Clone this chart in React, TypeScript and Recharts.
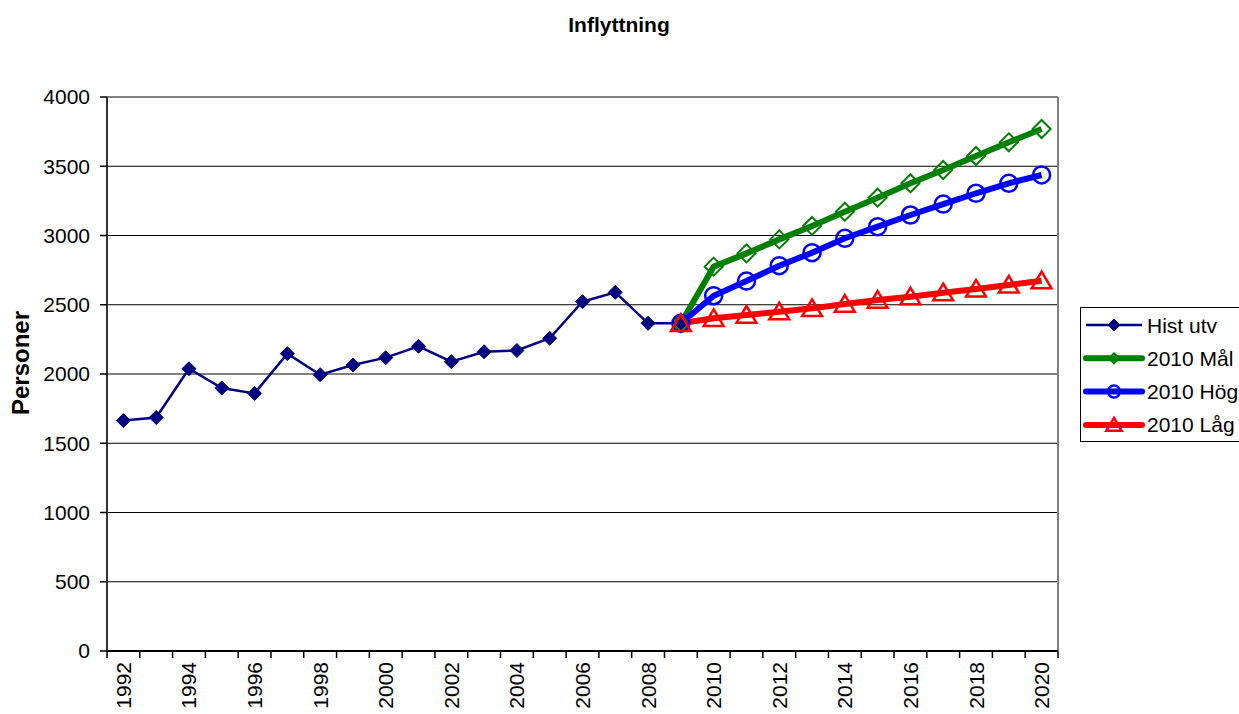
import React from "react";
import { LineChart, Line, XAxis, YAxis, CartesianGrid } from "recharts";

const years = [
  "1992", "1993", "1994", "1995", "1996", "1997", "1998", "1999", "2000", "2001",
  "2002", "2003", "2004", "2005", "2006", "2007", "2008", "2009", "2010", "2011",
  "2012", "2013", "2014", "2015", "2016", "2017", "2018", "2019", "2020",
];

// 1992-2009
const histUtv = [
  1664, 1686, 2038, 1899, 1860, 2147, 1995, 2065, 2118, 2200,
  2089, 2160, 2170, 2258, 2522, 2590, 2366, 2366,
];

// 2009-2020
const mal2010 = [2366, 2775, 2871, 2972, 3069, 3172, 3273, 3377, 3473, 3574, 3673, 3769];
const hog2010 = [2366, 2565, 2671, 2782, 2876, 2980, 3064, 3148, 3227, 3305, 3377, 3437];
const lag2010 = [2366, 2402, 2426, 2450, 2474, 2505, 2534, 2558, 2587, 2614, 2643, 2674];

const yTicks = [0, 500, 1000, 1500, 2000, 2500, 3000, 3500, 4000];

const seriesNames = ["Hist utv", "2010 Mål", "2010 Hög", "2010 Låg"];

const projStart = years.indexOf("2009");

const data = years.map((year, i) => ({
  year,
  hist: i < histUtv.length ? histUtv[i] : null,
  mal: i >= projStart ? mal2010[i - projStart] : null,
  hog: i >= projStart ? hog2010[i - projStart] : null,
  lag: i >= projStart ? lag2010[i - projStart] : null,
}));

const FONT = "'Liberation Sans', Arial, sans-serif";
const W = 1239;
const H = 714;
const PLOT_W = 951;

type MarkerProps = { cx: number; cy: number; s: number };

const Diamond = ({ cx, cy, s, fill, stroke, sw }: MarkerProps & { fill: string; stroke: string; sw: number }) => (
  <polygon
    points={`${cx},${cy - s} ${cx + s},${cy} ${cx},${cy + s} ${cx - s},${cy}`}
    fill={fill}
    stroke={stroke}
    strokeWidth={sw}
  />
);

const Circle = ({ cx, cy, s }: MarkerProps) => (
  <circle cx={cx} cy={cy} r={s} fill="none" stroke="#0000ff" strokeWidth={2.5} />
);

const Triangle = ({ cx, cy, s }: MarkerProps) => (
  <polygon
    points={`${cx},${cy - s} ${cx + s * 1.1},${cy + s * 0.85} ${cx - s * 1.1},${cy + s * 0.85}`}
    fill="none"
    stroke="#ff0000"
    strokeWidth={2.5}
    strokeLinejoin="miter"
  />
);

const markers = [
  (cx: number, cy: number, s: number) => <Diamond cx={cx} cy={cy} s={s} fill="#000080" stroke="#000080" sw={1} />,
  (cx: number, cy: number, s: number) => <Diamond cx={cx} cy={cy} s={s} fill="none" stroke="#008000" sw={2} />,
  (cx: number, cy: number, s: number) => <Circle cx={cx} cy={cy} s={s} />,
  (cx: number, cy: number, s: number) => <Triangle cx={cx} cy={cy} s={s} />,
];

const makeDot = (idx: number, size: number) => (props: any) => {
  const { cx, cy, index, value } = props;
  if (value == null || cx == null || cy == null) return <g key={`d${idx}-${index}`} />;
  return <g key={`d${idx}-${index}`}>{markers[idx](cx, cy, size)}</g>;
};

const XTick = (props: any) => {
  const { x, y, payload, index } = props;
  const half = PLOT_W / years.length / 2;
  const last = index === years.length - 1;
  return (
    <g>
      <line x1={x - half} y1={y} x2={x - half} y2={y + 7} stroke="#000" strokeWidth={1.5} />
      {last && <line x1={x + half} y1={y} x2={x + half} y2={y + 7} stroke="#000" strokeWidth={1.5} />}
      {index % 2 === 0 && (
        <text
          transform={`translate(${x + 7.5},${y + 11}) rotate(-90)`}
          textAnchor="end"
          fontSize={21}
          fontFamily={FONT}
          fill="#000"
        >
          {payload.value}
        </text>
      )}
    </g>
  );
};

const legendColors = ["#000080", "#008000", "#0000ff", "#ff0000"];
const legendWidths = [2.5, 6, 6, 6];
const legendSizes = [6, 5, 6, 7];

export default function App() {
  return (
    <div
      style={{
        position: "absolute",
        left: 0,
        top: 0,
        width: W,
        height: H,
        overflow: "hidden",
        background: "#fff",
        fontFamily: FONT,
      }}
    >
      <LineChart
        width={W}
        height={H}
        data={data}
        margin={{ top: 97, right: 181, bottom: 0, left: 7 }}
      >
        <CartesianGrid vertical={false} stroke="#000" strokeWidth={1} />
        <CartesianGrid
          horizontalCoordinatesGenerator={({ offset }: any) => [offset.top]}
          verticalCoordinatesGenerator={({ offset }: any) => [offset.left + offset.width]}
          stroke="#808080"
          strokeWidth={2}
        />
        <XAxis
          dataKey="year"
          scale="band"
          interval={0}
          height={63}
          tickLine={false}
          tickSize={0}
          tickMargin={0}
          axisLine={{ stroke: "#000", strokeWidth: 2 }}
          tick={<XTick />}
        />
        <YAxis
          width={100}
          domain={[0, 4000]}
          ticks={yTicks}
          interval={0}
          tickSize={7}
          tickMargin={10}
          tickLine={{ stroke: "#000", strokeWidth: 1.5 }}
          axisLine={{ stroke: "#333", strokeWidth: 2 }}
          tick={{ fontSize: 21, fill: "#000", fontFamily: FONT }}
        />
        <Line
          dataKey="hist"
          name={seriesNames[0]}
          stroke="#000080"
          strokeWidth={2.5}
          dot={makeDot(0, 7)}
          isAnimationActive={false}
        />
        <Line
          dataKey="mal"
          name={seriesNames[1]}
          stroke="#008000"
          strokeWidth={6}
          dot={makeDot(1, 9)}
          isAnimationActive={false}
        />
        <Line
          dataKey="hog"
          name={seriesNames[2]}
          stroke="#0000ff"
          strokeWidth={6}
          dot={makeDot(2, 8.5)}
          isAnimationActive={false}
        />
        <Line
          dataKey="lag"
          name={seriesNames[3]}
          stroke="#ff0000"
          strokeWidth={6}
          dot={makeDot(3, 9)}
          isAnimationActive={false}
        />
      </LineChart>
      <svg
        width={W}
        height={H}
        style={{ position: "absolute", left: 0, top: 0, pointerEvents: "none" }}
      >
        <text x={619} y={31.5} textAnchor="middle" fontSize={21} fontWeight="bold" fontFamily={FONT}>
          Inflyttning
        </text>
        <text
          transform="translate(28.5,363) rotate(-90)"
          textAnchor="middle"
          fontSize={24}
          fontWeight="bold"
          fontFamily={FONT}
        >
          Personer
        </text>
        <rect x={1080.5} y={307.5} width={170} height={134} fill="#fff" stroke="#000" strokeWidth={1} />
        {seriesNames.map((name, i) => {
          const cy = 325 + i * 33.3;
          return (
            <g key={name}>
              <line
                x1={1086}
                y1={cy}
                x2={1142}
                y2={cy}
                stroke={legendColors[i]}
                strokeWidth={legendWidths[i]}
                strokeLinecap={i === 0 ? "butt" : "round"}
              />
              {markers[i](1114, cy, legendSizes[i])}
              <text x={1147} y={cy + 7.5} fontSize={21} fontFamily={FONT} fill="#000">
                {name}
              </text>
            </g>
          );
        })}
      </svg>
    </div>
  );
}
